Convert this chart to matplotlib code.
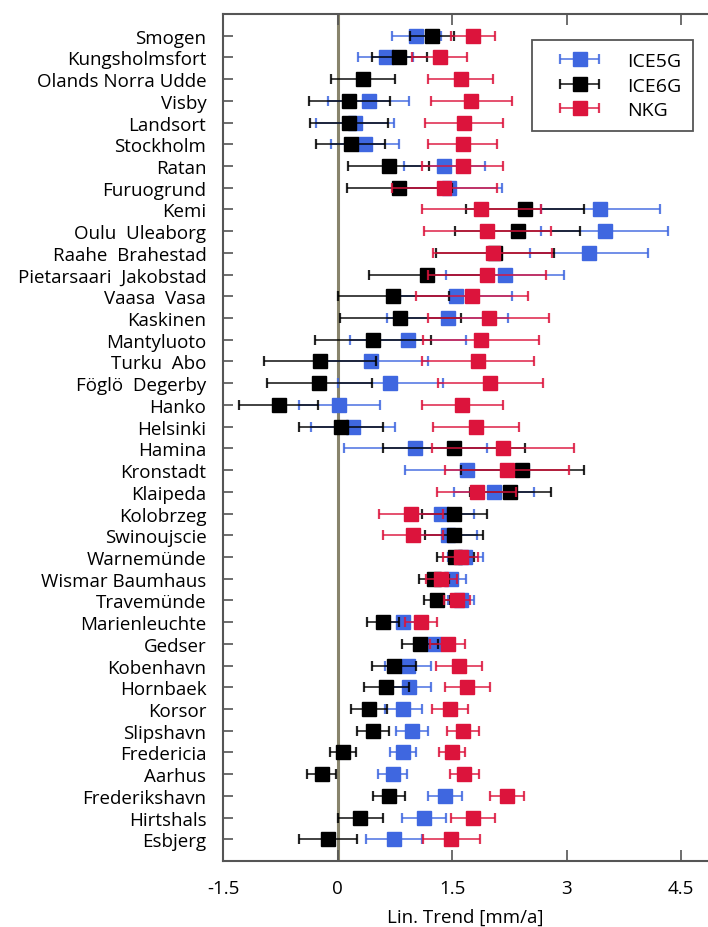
import numpy as np
import matplotlib
matplotlib.use('Agg')
import matplotlib.pyplot as plt
from matplotlib.container import ErrorbarContainer
from matplotlib.legend_handler import HandlerErrorbar

plt.rcParams['font.family'] = ['Open Sans', 'DejaVu Sans']

stations = ['Smogen', 'Kungsholmsfort', 'Olands Norra Udde', 'Visby', 'Landsort',
            'Stockholm', 'Ratan', 'Furuogrund', 'Kemi', 'Oulu  Uleaborg',
            'Raahe  Brahestad', 'Pietarsaari  Jakobstad', 'Vaasa  Vasa', 'Kaskinen',
            'Mantyluoto', 'Turku  Abo', 'Föglö  Degerby', 'Hanko', 'Helsinki', 'Hamina',
            'Kronstadt', 'Klaipeda', 'Kolobrzeg', 'Swinoujscie', 'Warnemünde',
            'Wismar Baumhaus', 'Travemünde', 'Marienleuchte', 'Gedser', 'Kobenhavn',
            'Hornbaek', 'Korsor', 'Slipshavn', 'Fredericia', 'Aarhus', 'Frederikshavn',
            'Hirtshals', 'Esbjerg']

ice5g = [1.03, 0.63, np.nan, 0.41, 0.23, 0.36, 1.40, 1.46, 3.44, 3.50,
         3.29, 2.19, 1.55, 1.44, 0.92, 0.44, 0.69, 0.02, 0.20, 1.02,
         1.69, 2.05, 1.36, 1.45, 1.67, 1.48, 1.61, 0.86, 1.26, 0.92,
         0.93, 0.86, 0.98, 0.86, 0.72, 1.41, 1.13, 0.74]
ice5g_err = [0.32, 0.36, np.nan, 0.53, 0.51, 0.45, 0.53, 0.69, 0.78, 0.83,
             0.77, 0.77, 0.73, 0.79, 0.76, 0.74, 0.69, 0.53, 0.55, 0.93,
             0.81, 0.52, 0.42, 0.38, 0.23, 0.20, 0.17, 0.21, 0.23, 0.30,
             0.29, 0.24, 0.21, 0.17, 0.19, 0.22, 0.29, 0.37]

ice6g = [1.24, 0.81, 0.33, 0.155, 0.15, 0.17, 0.67, 0.81, 2.45, 2.36,
         2.06, 1.17, 0.73, 0.82, 0.46, -0.23, -0.24, -0.77, 0.04, 1.53,
         2.42, 2.26, 1.53, 1.52, 1.54, 1.26, 1.30, 0.60, 1.08, 0.74,
         0.64, 0.41, 0.46, 0.07, -0.21, 0.67, 0.30, -0.13]
ice6g_err = [0.29, 0.36, 0.42, 0.53, 0.51, 0.45, 0.53, 0.69, 0.77, 0.82,
             0.77, 0.76, 0.73, 0.79, 0.76, 0.73, 0.69, 0.52, 0.55, 0.93,
             0.81, 0.53, 0.43, 0.38, 0.24, 0.20, 0.17, 0.21, 0.23, 0.29,
             0.29, 0.24, 0.21, 0.17, 0.19, 0.21, 0.29, 0.38]

nkg = [1.77, 1.34, 1.61, 1.75, 1.66, 1.64, 1.64, 1.40, 1.88, 1.96,
       2.03, 1.96, 1.76, 1.98, 1.88, 1.84, 2.00, 1.63, 1.81, 2.17,
       2.22, 1.82, 0.96, 0.99, 1.61, 1.36, 1.57, 1.09, 1.44, 1.59,
       1.70, 1.47, 1.64, 1.50, 1.66, 2.22, 1.77, 1.49]
nkg_err = [0.29, 0.36, 0.42, 0.53, 0.51, 0.45, 0.53, 0.69, 0.78, 0.83,
           0.78, 0.77, 0.73, 0.79, 0.76, 0.73, 0.69, 0.53, 0.56, 0.93,
           0.81, 0.52, 0.42, 0.39, 0.23, 0.20, 0.17, 0.21, 0.23, 0.30,
           0.29, 0.24, 0.21, 0.17, 0.19, 0.22, 0.29, 0.37]

xticks = [-1.5, 0, 1.5, 3, 4.5]
xticklabels = ['-1.5', '0', '1.5', '3', '4.5']

fig = plt.figure(figsize=(7.08, 9.28), dpi=100)
ax = fig.add_axes([223 / 708, 66 / 928, 485 / 708, 847 / 928])

y = np.arange(len(stations))
ax.axvline(0, color='#88846c', lw=2.2, zorder=1)

series = [('ICE5G', ice5g, ice5g_err, '#3f67e0'),
          ('ICE6G', ice6g, ice6g_err, 'black'),
          ('NKG', nkg, nkg_err, '#dc143c')]
for i, (name, vals, errs, col) in enumerate(series):
    eb = ax.errorbar(vals, y, xerr=errs, fmt='s', color=col, ms=9.5, mec=col,
                     capsize=3.6, elinewidth=1.3, capthick=1.6, label=name,
                     zorder=2 + i)
    for ln in eb[2]:
        ln.set_alpha(0.8)
    for cap in eb[1]:
        cap.set_alpha(0.85)

ax.set_xlim(-1.5, 4.85)
ax.set_ylim(len(stations), -1)
ax.set_yticks(y)
ax.set_yticklabels(stations, fontsize=13.5)
ax.set_xticks(xticks)
ax.set_xticklabels(xticklabels, fontsize=13.5)
ax.tick_params(axis='y', direction='in', length=7, width=1.2, color='#555555', pad=12)
ax.tick_params(axis='x', direction='in', length=8, width=1.2, color='#555555',
               top=True, pad=13)
ax.set_xlabel('Lin. Trend [mm/a]', fontsize=13.5, labelpad=8)

for s in ['left', 'top', 'bottom']:
    ax.spines[s].set_color('#555555')
    ax.spines[s].set_linewidth(1.5)
ax.spines['right'].set_visible(False)

leg = ax.legend(loc='upper right', bbox_to_anchor=(0.969, 0.969), borderaxespad=0,
                fancybox=False, edgecolor='#555555', framealpha=1, fontsize=14,
                handlelength=3.75, borderpad=0.6, labelspacing=0.34, handletextpad=0.55,
                handler_map={ErrorbarContainer: HandlerErrorbar(xerr_size=1.0)})
leg.get_frame().set_linewidth(1.3)

fig.savefig('out.png', dpi=100)
